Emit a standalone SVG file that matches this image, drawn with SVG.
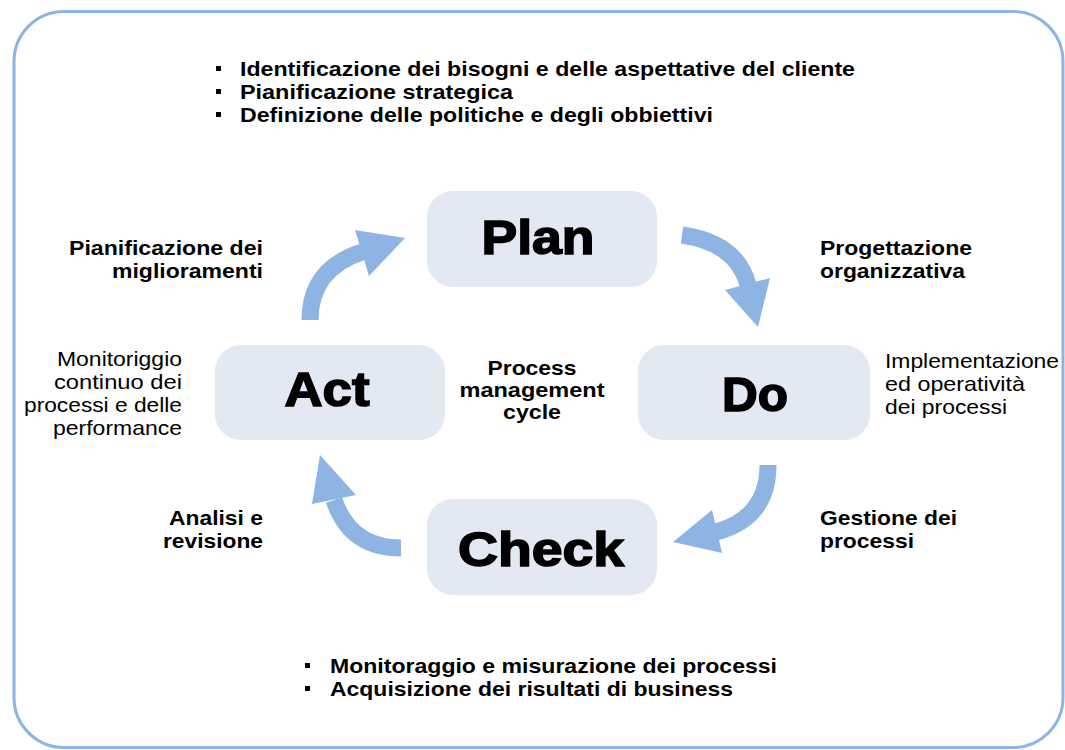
<svg xmlns="http://www.w3.org/2000/svg" width="1065" height="750" viewBox="0 0 1065 750">
<style>
.frame{fill:#ffffff;stroke:#8db4e2;stroke-width:3}
.box{fill:#e3e9f2}
.big{font-family:"Liberation Sans",Arial,sans-serif;font-weight:bold;font-size:48px;fill:#000;stroke:#000;stroke-width:1.6;text-anchor:middle}
.b{font-family:"Liberation Sans",Arial,sans-serif;font-weight:bold;font-size:21px;fill:#000}
.r{font-family:"Liberation Sans",Arial,sans-serif;font-size:21px;fill:#000}
.shaft{fill:none;stroke:#8db4e2;stroke-width:17;stroke-linecap:butt}
.head{fill:#8db4e2}
.bul{fill:#000}
</style>
<rect class="frame" x="14" y="11.5" width="1049" height="736" rx="50"/>

<g id="connectors">
  <g id="act-plan">
    <path class="shaft" d="M310,320 Q310,269 362,252"/>
    <polygon class="head" points="355,230 405,238 369,276"/>
  </g>
  <g id="plan-do">
    <path class="shaft" d="M682,235 Q737,243 748,285"/>
    <polygon class="head" points="725,290 770,278 758,327"/>
  </g>
  <g id="do-check">
    <path class="shaft" d="M768,465 Q768,518 716,532"/>
    <polygon class="head" points="712,510 673,542 722,553"/>
  </g>
  <g id="check-act">
    <path class="shaft" d="M401,548 Q350,548 334,500"/>
    <polygon class="head" points="312,504 320,455 356,495"/>
  </g>
</g>

<g id="plan">
  <rect class="box" x="427" y="191" width="230" height="96" rx="26"/>
  <text class="big" x="538" y="254" textLength="113" lengthAdjust="spacingAndGlyphs">Plan</text>
</g>
<g id="act">
  <rect class="box" x="215" y="345" width="230" height="95" rx="26"/>
  <text class="big" x="327" y="406" textLength="85" lengthAdjust="spacingAndGlyphs">Act</text>
</g>
<g id="do">
  <rect class="box" x="638" y="345" width="232" height="95" rx="26"/>
  <text class="big" x="755" y="411" textLength="66" lengthAdjust="spacingAndGlyphs">Do</text>
</g>
<g id="check">
  <rect class="box" x="427" y="499" width="230" height="96" rx="26"/>
  <text class="big" x="541" y="566" textLength="166" lengthAdjust="spacingAndGlyphs">Check</text>
</g>

<g id="top-bullets">
  <rect class="bul" x="216" y="66" width="5" height="5"/>
  <rect class="bul" x="216" y="89" width="5" height="5"/>
  <rect class="bul" x="216" y="112" width="5" height="5"/>
  <text class="b" x="240" y="76" textLength="615" lengthAdjust="spacingAndGlyphs">Identificazione dei bisogni e delle aspettative del cliente</text>
  <text class="b" x="240" y="99" textLength="273" lengthAdjust="spacingAndGlyphs">Pianificazione strategica</text>
  <text class="b" x="240" y="122" textLength="473" lengthAdjust="spacingAndGlyphs">Definizione delle politiche e degli obbiettivi</text>
</g>

<g id="bottom-bullets">
  <rect class="bul" x="305" y="663" width="5" height="5"/>
  <rect class="bul" x="305" y="686" width="5" height="5"/>
  <text class="b" x="330" y="673" textLength="447" lengthAdjust="spacingAndGlyphs">Monitoraggio e misurazione dei processi</text>
  <text class="b" x="330" y="696" textLength="403" lengthAdjust="spacingAndGlyphs">Acquisizione dei risultati di business</text>
</g>

<g id="label-plan-left">
  <text class="b" x="263" y="255" text-anchor="end" textLength="194" lengthAdjust="spacingAndGlyphs">Pianificazione dei</text>
  <text class="b" x="263" y="278" text-anchor="end" textLength="151" lengthAdjust="spacingAndGlyphs">miglioramenti</text>
</g>
<g id="label-plan-right">
  <text class="b" x="820" y="255" textLength="152" lengthAdjust="spacingAndGlyphs">Progettazione</text>
  <text class="b" x="820" y="278" textLength="145" lengthAdjust="spacingAndGlyphs">organizzativa</text>
</g>
<g id="label-center">
  <text class="b" x="532" y="375" text-anchor="middle" textLength="89" lengthAdjust="spacingAndGlyphs">Process</text>
  <text class="b" x="532" y="397" text-anchor="middle" textLength="145" lengthAdjust="spacingAndGlyphs">management</text>
  <text class="b" x="532" y="419" text-anchor="middle" textLength="58" lengthAdjust="spacingAndGlyphs">cycle</text>
</g>
<g id="label-act-left">
  <text class="r" x="182" y="366" text-anchor="end" textLength="125" lengthAdjust="spacingAndGlyphs">Monitoriggio</text>
  <text class="r" x="182" y="389" text-anchor="end" textLength="128" lengthAdjust="spacingAndGlyphs">continuo dei</text>
  <text class="r" x="182" y="412" text-anchor="end" textLength="158" lengthAdjust="spacingAndGlyphs">processi e delle</text>
  <text class="r" x="182" y="435" text-anchor="end" textLength="129" lengthAdjust="spacingAndGlyphs">performance</text>
</g>
<g id="label-do-right">
  <text class="r" x="885" y="368" textLength="174" lengthAdjust="spacingAndGlyphs">Implementazione</text>
  <text class="r" x="885" y="391" textLength="140" lengthAdjust="spacingAndGlyphs">ed operatività</text>
  <text class="r" x="885" y="414" textLength="122" lengthAdjust="spacingAndGlyphs">dei processi</text>
</g>
<g id="label-check-left">
  <text class="b" x="263" y="525" text-anchor="end" textLength="94" lengthAdjust="spacingAndGlyphs">Analisi e</text>
  <text class="b" x="263" y="548" text-anchor="end" textLength="100" lengthAdjust="spacingAndGlyphs">revisione</text>
</g>
<g id="label-check-right">
  <text class="b" x="820" y="525" textLength="137" lengthAdjust="spacingAndGlyphs">Gestione dei</text>
  <text class="b" x="820" y="548" textLength="94" lengthAdjust="spacingAndGlyphs">processi</text>
</g>
</svg>
